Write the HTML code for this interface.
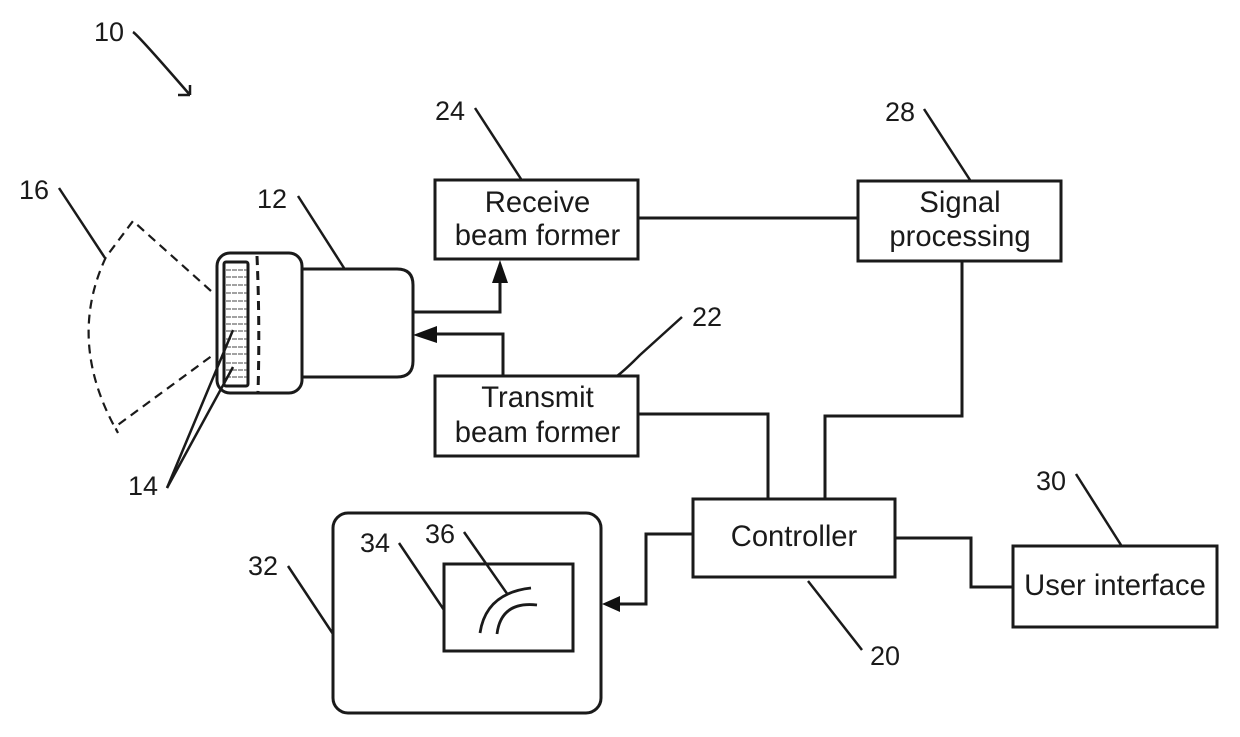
<!DOCTYPE html>
<html>
<head>
<meta charset="utf-8">
<style>
html,body{margin:0;padding:0;background:#fff}
svg{display:block}
text{font-family:"Liberation Sans",sans-serif;fill:#1a1a1a}
.l{font-size:27px}
.b{font-size:29.2px;text-anchor:middle}
.s{fill:none;stroke:#1a1a1a;stroke-width:2.5}
.t{fill:none;stroke:#1a1a1a;stroke-width:3}
.d{fill:none;stroke:#1a1a1a;stroke-width:2.2;stroke-dasharray:9 6}
.w{fill:none;stroke:#444;stroke-width:1;stroke-dasharray:5 1}
</style>
</head>
<body>
<svg width="1240" height="737" viewBox="0 0 1240 737" xmlns="http://www.w3.org/2000/svg">
<rect width="1240" height="737" fill="#fff"/>

<!-- Boxes -->
<rect class="t" x="435" y="180" width="203" height="79"/>
<rect class="t" x="858" y="181" width="203" height="80"/>
<rect class="t" x="435" y="376" width="203" height="80"/>
<rect class="t" x="693" y="499" width="202" height="78"/>
<rect class="t" x="1013" y="546" width="204" height="81"/>
<rect class="t" x="333" y="513" width="268" height="200" rx="15"/>
<rect class="t" x="444" y="564" width="129" height="87"/>

<!-- Box text -->
<text class="b" x="537.5" y="212">Receive</text>
<text class="b" x="537.5" y="245">beam former</text>
<text class="b" x="960" y="212">Signal</text>
<text class="b" x="960" y="246">processing</text>
<text class="b" x="537.5" y="407">Transmit</text>
<text class="b" x="537.5" y="442">beam former</text>
<text class="b" x="794" y="546">Controller</text>
<text class="b" x="1115" y="595">User interface</text>

<!-- Probe -->
<path class="t" d="M302 269H397Q413 269 413 285V361Q413 377 397 377H302"/>
<rect class="t" x="217" y="253" width="85" height="140" rx="13"/>
<rect class="t" x="224" y="262" width="24" height="124" rx="2"/>
<path class="t" style="stroke-dasharray:9 6" d="M257 256Q260 325 258 392"/>
<path class="w" d="M226 270H247M226 277H247M226 285H247M226 293H247M226 301H247M226 309H247M226 317H247M226 324H247M226 331H247M226 339H247M226 347H247M226 354H247M226 363H247M226 370H247M226 377H247"/>

<!-- Sector -->
<path class="d" d="M211 291L133 221L106 257Q66 342 118 433L115 427L213 355"/>

<!-- Connectors -->
<path class="t" d="M638 218H858"/>
<path class="t" d="M412 312H500V280"/>
<path fill="#111" d="M492 283L500 260L508 283Z"/>
<path class="t" d="M503 376V334H434"/>
<path fill="#111" d="M437 326L413 335L437 343Z"/>
<path class="t" d="M638 414H768V499"/>
<path class="t" d="M962 261V416H825V499"/>
<path class="t" d="M693 534H646V604H618"/>
<path fill="#111" d="M620 596L602 604L620 612Z"/>
<path class="t" d="M895 538H971V587H1013"/>

<!-- Arcs in display -->
<path class="s" style="stroke-width:2.8" d="M480 633Q486 593 531 588"/>
<path class="s" style="stroke-width:2.8" d="M497 634Q501 601 537 605"/>

<!-- Labels -->
<text class="l" x="94" y="41">10</text>
<text class="l" x="19" y="199">16</text>
<text class="l" x="257" y="208">12</text>
<text class="l" x="435" y="120">24</text>
<text class="l" x="885" y="121">28</text>
<text class="l" x="692" y="326">22</text>
<text class="l" x="128" y="495">14</text>
<text class="l" x="1036" y="490">30</text>
<text class="l" x="248" y="575">32</text>
<text class="l" x="360" y="552">34</text>
<text class="l" x="425" y="543">36</text>
<text class="l" x="870" y="665">20</text>

<!-- Leader lines -->
<g class="s">
<path d="M133 32Q138 35 190 95M190 95L178 95M190 95L190 85"/>
<path d="M59 188L105 258"/>
<path d="M298 196L344 268"/>
<path d="M475 108L521 179"/>
<path d="M924 109L970 180"/>
<path d="M682 317L640 355Q625 370 617 376"/>
<path d="M167 488L233 330"/>
<path d="M167 488L233 367"/>
<path d="M1076 474L1121 545"/>
<path d="M288 566L333 634"/>
<path d="M399 543L444 610"/>
<path d="M464 532L508 595"/>
<path d="M808 581L862 650"/>
</g>
</svg>
</body>
</html>
